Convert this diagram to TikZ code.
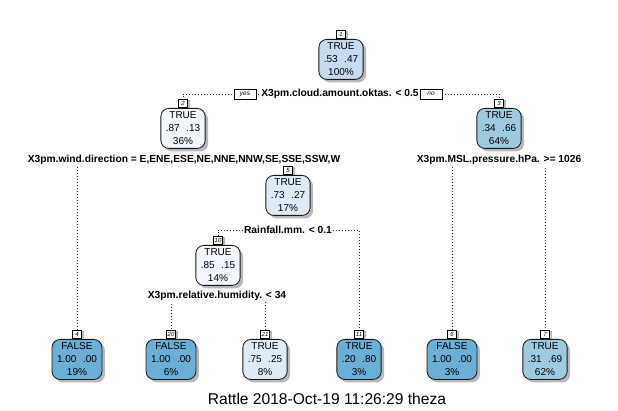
\documentclass[tikz,border=0pt]{standalone}
\usepackage{fontspec}
\setmainfont{Liberation Sans}
\usetikzlibrary{shadows,backgrounds}
\definecolor{cA}{RGB}{198,219,239}
\definecolor{cB}{RGB}{240,246,252}
\definecolor{cC}{RGB}{158,202,225}
\definecolor{cD}{RGB}{222,235,247}
\definecolor{cE}{RGB}{107,174,214}
\newcommand{\gap}{\hspace{6.5pt}}
\begin{document}
\begin{tikzpicture}[x=1pt,y=-1pt,
  nodebox/.style={draw=black!90, line width=0.85pt, rounded corners=8pt,
    inner xsep=5pt, inner ysep=2pt, minimum height=40pt, align=center,
    font=\fontsize{10}{13}\selectfont,
    drop shadow={shadow xshift=3pt, shadow yshift=-3pt, fill=black!28, opacity=1}},
  numlab/.style={draw=black, fill=white, line width=0.6pt, inner sep=0.9pt,
    minimum width=9pt, minimum height=8pt,
    font=\fontsize{6}{6.5}\selectfont\itshape,
    drop shadow={shadow xshift=2.5pt, shadow yshift=0pt, fill=black!28, opacity=1}},
  splittext/.style={fill=white, inner sep=1.2pt, font=\fontsize{10.25}{12}\selectfont\bfseries},
  yesno/.style={draw=black, fill=white, line width=0.6pt, inner sep=1.2pt,
    minimum width=22pt, minimum height=10pt, font=\fontsize{6.5}{7}\selectfont\itshape},
  branch/.style={draw=black!85, line width=0.7pt, dash pattern=on 0.8pt off 2.2pt},
  footer/.style={font=\fontsize{15.6}{17}\selectfont}
]
\useasboundingbox (0,0) rectangle (618,411);

% internal nodes
\node[nodebox, fill=cA, anchor=north] (n1) at (341,39) {TRUE\\.53\gap.47\\100\%};
\node[numlab, anchor=south] (l1) at (n1.north) {1};
\node[nodebox, fill=cB, anchor=north] (n2) at (183,108) {TRUE\\.87\gap.13\\36\%};
\node[numlab, anchor=south] (l2) at (n2.north) {2};
\node[nodebox, fill=cC, anchor=north] (n3) at (499,108) {TRUE\\.34\gap.66\\64\%};
\node[numlab, anchor=south] (l3) at (n3.north) {3};
\node[nodebox, fill=cD, anchor=north] (n5) at (288,175) {TRUE\\.73\gap.27\\17\%};
\node[numlab, anchor=south] (l5) at (n5.north) {5};
\node[nodebox, fill=cB, anchor=north] (n10) at (218,245) {TRUE\\.85\gap.15\\14\%};
\node[numlab, anchor=south] (l10) at (n10.north) {10};

% leaves
\node[nodebox, fill=cE, anchor=north] (n4) at (77,339) {FALSE\\1.00\gap.00\\19\%};
\node[numlab, anchor=south] (l4) at (n4.north) {4};
\node[nodebox, fill=cE, anchor=north] (n20) at (171,339) {FALSE\\1.00\gap.00\\6\%};
\node[numlab, anchor=south] (l20) at (n20.north) {20};
\node[nodebox, fill=cD, anchor=north] (n21) at (265,339) {TRUE\\.75\gap.25\\8\%};
\node[numlab, anchor=south] (l21) at (n21.north) {21};
\node[nodebox, fill=cE, anchor=north] (n11) at (359,339) {TRUE\\.20\gap.80\\3\%};
\node[numlab, anchor=south] (l11) at (n11.north) {11};
\node[nodebox, fill=cE, anchor=north] (n6) at (452,339) {FALSE\\1.00\gap.00\\3\%};
\node[numlab, anchor=south] (l6) at (n6.north) {6};
\node[nodebox, fill=cC, anchor=north] (n7) at (545,339) {TRUE\\.31\gap.69\\62\%};
\node[numlab, anchor=south] (l7) at (n7.north) {7};

% split labels
\node[splittext] (s1) at (340,94) {X3pm.cloud.amount.oktas. < 0.5};
\node[splittext] (s2) at (184,160) {X3pm.wind.direction = E,ENE,ESE,NE,NNE,NNW,SE,SSE,SSW,W};
\node[splittext] (s3) at (499,160) {X3pm.MSL.pressure.hPa. >= 1026};
\node[splittext] (s5) at (288,230) {Rainfall.mm. < 0.1};
\node[splittext] (s10) at (217,296) {X3pm.relative.humidity. < 34};
\node[yesno] (yes) at (245,94) {yes};
\node[yesno] (no) at (431,94) {no};

\begin{pgfonlayer}{background}
\draw[branch] (s1.center) -| (l2.north);
\draw[branch] (s1.center) -| (l3.north);
\draw[branch] (s2.center) -| (l4.north);
\draw[branch] (s2.center) -| (l5.north);
\draw[branch] (s3.center) -| (l6.north);
\draw[branch] (s3.center) -| (l7.north);
\draw[branch] (s5.center) -| (l10.north);
\draw[branch] (s5.center) -| (l11.north);
\draw[branch] (s10.center) -| (l20.north);
\draw[branch] (s10.center) -| (l21.north);
\end{pgfonlayer}

\node[footer] (foot) at (327,399) {Rattle 2018-Oct-19 11:26:29 theza};
\end{tikzpicture}
\end{document}
